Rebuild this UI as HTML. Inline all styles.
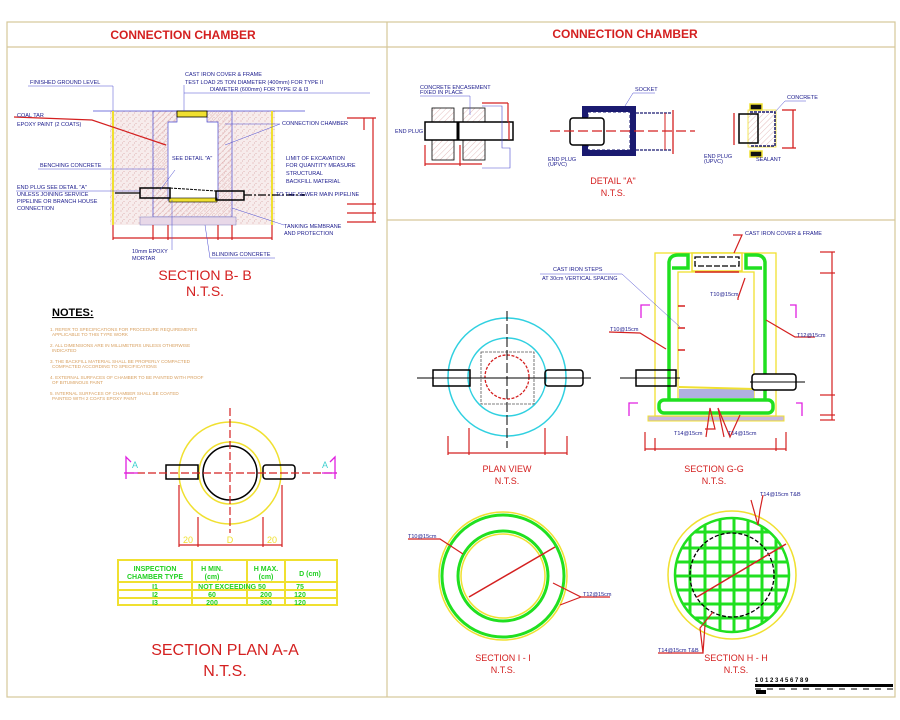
<!DOCTYPE html>
<html><head><meta charset="utf-8"><style>
html,body{margin:0;padding:0;background:#fff}
svg{display:block;font-family:"Liberation Sans",sans-serif}
.t{fill:#1a1a8c;font-size:5.5px}
.r{fill:#d42020}
</style></head><body>
<svg width="900" height="720" viewBox="0 0 900 720" xmlns="http://www.w3.org/2000/svg">
<defs>
<pattern id="h" width="4" height="4" patternUnits="userSpaceOnUse" patternTransform="rotate(45)"><line x1="0" y1="0" x2="0" y2="4" stroke="#d9a0a0" stroke-width="0.7"/></pattern>
<pattern id="s" width="6" height="6" patternUnits="userSpaceOnUse"><rect width="6" height="6" fill="#f7ecec"/><circle cx="1" cy="1" r="0.5" fill="#d08a8a"/><circle cx="4" cy="3.5" r="0.5" fill="#d8a0a0"/><circle cx="2.5" cy="5" r="0.4" fill="#c07070"/></pattern>
<clipPath id="hh"><circle cx="732" cy="575" r="58"/></clipPath>
</defs>
<!-- frame -->
<g fill="none" stroke="#d6c79a" stroke-width="1.2">
<rect x="7" y="22" width="888" height="675"/>
<line x1="7" y1="47" x2="895" y2="47"/>
<line x1="387" y1="22" x2="387" y2="697"/>
<line x1="387" y1="220" x2="895" y2="220"/>
</g>
<g class="r" font-weight="bold" font-size="12" text-anchor="middle">
<text x="183" y="39">CONNECTION CHAMBER</text>
<text x="625" y="38">CONNECTION CHAMBER</text>
</g>

<!-- SECTION B-B -->
<rect x="110" y="111" width="165" height="114" fill="url(#s)"/>
<rect x="153" y="111" width="79" height="106" fill="url(#h)" stroke="#4a4ad0" stroke-width="0.7"/>
<path d="M177 111 H207 V122 H218 V200 H168 V122 H177 Z" fill="#fff" stroke="#4a4ad0" stroke-width="0.7"/>
<rect x="140" y="217" width="96" height="8" fill="#e8d8e8" stroke="#8080c0" stroke-width="0.5"/>
<line x1="93" y1="111" x2="305" y2="111" stroke="#4a4ad0" stroke-width="0.8"/>
<line x1="113" y1="111" x2="113" y2="225" stroke="#f0e030" stroke-width="2"/>
<line x1="272" y1="111" x2="272" y2="225" stroke="#f0e030" stroke-width="2"/>
<rect x="177" y="111" width="30" height="6" fill="#f0e030" stroke="#000" stroke-width="0.8"/>
<rect x="169" y="198" width="48" height="4" fill="#f0e030" stroke="#000" stroke-width="0.6"/>
<rect x="140" y="188" width="30" height="10" fill="none" stroke="#000" stroke-width="1.5"/>
<rect x="216" y="191" width="28" height="9" fill="none" stroke="#000" stroke-width="1.5"/>
<line x1="170" y1="188" x2="216" y2="191" stroke="#000" stroke-width="1" stroke-dasharray="3,1"/>
<line x1="115" y1="193" x2="140" y2="193" stroke="#000" stroke-width="1.2"/>
<line x1="244" y1="195" x2="305" y2="195" stroke="#000" stroke-width="1.2" stroke-dasharray="8,2,2,2"/>
<path d="M14 117 L92 120 L166 145" fill="none" stroke="#d42020" stroke-width="1.2"/>
<g stroke="#d42020" stroke-width="1.2" fill="none">
<line x1="113" y1="238" x2="272" y2="238"/>
<line x1="113" y1="225" x2="113" y2="240"/><line x1="153" y1="225" x2="153" y2="240"/><line x1="168" y1="225" x2="168" y2="240"/><line x1="218" y1="225" x2="218" y2="240"/><line x1="232" y1="225" x2="232" y2="240"/><line x1="272" y1="225" x2="272" y2="240"/>
<line x1="373" y1="118" x2="373" y2="222"/><line x1="347" y1="118" x2="376" y2="118"/><line x1="347" y1="204" x2="376" y2="204"/><line x1="347" y1="213" x2="376" y2="213"/><line x1="347" y1="222" x2="376" y2="222"/>
<line x1="364" y1="118" x2="364" y2="130"/>
</g>
<g class="t">
<text x="30" y="84">FINISHED GROUND LEVEL</text>
<text x="185" y="76">CAST IRON COVER &amp; FRAME</text>
<text x="185" y="84">TEST LOAD 25 TON DIAMETER (400mm) FOR TYPE II</text>
<text x="210" y="91">DIAMETER (600mm) FOR TYPE I2 &amp; I3</text>
<text x="17" y="117">COAL TAR</text><text x="17" y="126">EPOXY PAINT (2 COATS)</text>
<text x="282" y="125">CONNECTION CHAMBER</text>
<text x="172" y="160">SEE DETAIL "A"</text>
<text x="40" y="167">BENCHING CONCRETE</text>
<text x="286" y="160">LIMIT OF EXCAVATION</text><text x="286" y="167">FOR QUANTITY MEASURE</text>
<text x="286" y="175">STRUCTURAL</text><text x="286" y="183">BACKFILL MATERIAL</text>
<text x="17" y="189">END PLUG SEE DETAIL "A"</text><text x="17" y="196">UNLESS JOINING SERVICE</text><text x="17" y="203">PIPELINE OR BRANCH HOUSE</text><text x="17" y="210">CONNECTION</text>
<text x="276" y="196">TO THE SEWER MAIN PIPELINE</text>
<text x="284" y="228">TANKING MEMBRANE</text><text x="284" y="235">AND PROTECTION</text>
<text x="132" y="253">10mm EPOXY</text><text x="132" y="260">MORTAR</text>
<text x="212" y="256">BLINDING CONCRETE</text>
</g>
<g stroke="#4a4ad0" stroke-width="0.5" fill="none">
<line x1="28" y1="86" x2="113" y2="86"/><line x1="113" y1="86" x2="113" y2="111"/>
<line x1="184" y1="93" x2="370" y2="93"/><line x1="184" y1="85" x2="184" y2="111"/>
<line x1="225" y1="124" x2="280" y2="124"/><line x1="280" y1="124" x2="225" y2="145"/>
<line x1="38" y1="169" x2="165" y2="169"/><line x1="160" y1="190" x2="175" y2="170"/>
<line x1="16" y1="191" x2="140" y2="191"/>
<line x1="284" y1="225" x2="232" y2="208"/>
<line x1="210" y1="258" x2="275" y2="258"/><line x1="210" y1="258" x2="205" y2="225"/>
<line x1="172" y1="250" x2="172" y2="200"/>
</g>
<g class="r" font-size="14" text-anchor="middle"><text x="205" y="280">SECTION B- B</text><text x="205" y="296">N.T.S.</text></g>

<!-- NOTES -->
<text x="52" y="316" font-weight="bold" font-size="11" text-decoration="underline">NOTES:</text>
<g fill="#d8a060" font-size="4.6">
<text x="50" y="331">1. REFER TO SPECIFICATIONS FOR PROCEDURE REQUIREMENTS</text><text x="52" y="336">APPLICABLE TO THIS TYPE WORK</text>
<text x="50" y="347">2. ALL DIMENSIONS ARE IN MILLIMETERS UNLESS OTHERWISE</text><text x="52" y="352">INDICATED</text>
<text x="50" y="363">3. THE BACKFILL MATERIAL SHALL BE PROPERLY COMPACTED</text><text x="52" y="368">COMPACTED ACCORDING TO SPECIFICATIONS</text>
<text x="50" y="379">4. EXTERNAL SURFACES OF CHAMBER TO BE PAINTED WITH PROOF</text><text x="52" y="384">OF BITUMINOUS PAINT</text>
<text x="50" y="395">5. INTERNAL SURFACES OF CHAMBER SHALL BE COATED</text><text x="52" y="400">PAINTED WITH 2 COATS EPOXY PAINT</text>
</g>

<!-- SECTION PLAN A-A -->
<g fill="none">
<circle cx="230" cy="473" r="51" stroke="#f0e030" stroke-width="1.5"/>
<circle cx="230" cy="473" r="31" stroke="#f0e030" stroke-width="1.5"/>
<circle cx="230" cy="473" r="27" stroke="#000" stroke-width="1.5"/>
<rect x="166" y="465" width="32" height="14" stroke="#000" stroke-width="1.5"/>
<rect x="263" y="465" width="32" height="14" rx="3" stroke="#000" stroke-width="1.5"/>
<line x1="126" y1="473" x2="337" y2="473" stroke="#d42020" stroke-width="1.2" stroke-dasharray="8,3"/>
<line x1="230" y1="408" x2="230" y2="533" stroke="#d42020" stroke-width="1.2" stroke-dasharray="8,3"/>
<g stroke="#d42020" stroke-width="1.2"><line x1="179" y1="545" x2="282" y2="545"/><line x1="179" y1="485" x2="179" y2="547"/><line x1="198" y1="517" x2="198" y2="547"/><line x1="263" y1="517" x2="263" y2="547"/><line x1="282" y1="485" x2="282" y2="547"/></g>
<g stroke="#e020e0" stroke-width="1.3"><path d="M126 479 V457 L131 462"/><path d="M335 479 V457 L330 462"/><line x1="124" y1="473" x2="138" y2="473"/><line x1="322" y1="473" x2="337" y2="473"/></g>
</g>
<g fill="#40d0d0" font-size="9"><text x="132" y="468">A</text><text x="322" y="468">A</text></g>
<g fill="#f0e030" font-size="9" text-anchor="middle"><text x="188" y="543">20</text><text x="230" y="543">D</text><text x="272" y="543">20</text></g>
<g fill="none" stroke="#f0e030" stroke-width="2">
<rect x="118" y="560" width="219" height="45"/>
<line x1="118" y1="582" x2="337" y2="582"/><line x1="118" y1="590" x2="337" y2="590"/><line x1="118" y1="598" x2="337" y2="598"/>
<line x1="192" y1="560" x2="192" y2="605"/><line x1="247" y1="560" x2="247" y2="605"/><line x1="285" y1="560" x2="285" y2="605"/>
</g>
<g fill="#20d020" font-weight="bold" font-size="7" text-anchor="middle">
<text x="155" y="571">INSPECTION</text><text x="155" y="579">CHAMBER TYPE</text>
<text x="212" y="571">H MIN.</text><text x="212" y="579">(cm)</text><text x="266" y="571">H MAX.</text><text x="266" y="579">(cm)</text><text x="310" y="576">D (cm)</text>
<text x="155" y="589">I1</text><text x="232" y="589">NOT EXCEEDING 50</text><text x="300" y="589">75</text>
<text x="155" y="597">I2</text><text x="212" y="597">60</text><text x="266" y="597">200</text><text x="300" y="597">120</text>
<text x="155" y="605">I3</text><text x="212" y="605">200</text><text x="266" y="605">300</text><text x="300" y="605">120</text>
</g>
<g class="r" font-size="16" text-anchor="middle"><text x="225" y="655">SECTION PLAN A-A</text><text x="225" y="676">N.T.S.</text></g>

<!-- DETAIL A -->
<g>
<rect x="432" y="108" width="22" height="52" fill="url(#h)" stroke="#000" stroke-width="0.8"/>
<rect x="463" y="108" width="22" height="52" fill="url(#h)" stroke="#000" stroke-width="0.8"/>
<rect x="425" y="122" width="88" height="18" fill="#fff" stroke="#000" stroke-width="1.5"/>
<line x1="458" y1="122" x2="458" y2="140" stroke="#000" stroke-width="3"/>
<g stroke="#d42020" stroke-width="1.2" fill="none"><line x1="482" y1="103" x2="508" y2="103"/><line x1="508" y1="103" x2="508" y2="122"/><line x1="509" y1="122" x2="509" y2="140"/><line x1="425" y1="164" x2="482" y2="164"/><line x1="425" y1="145" x2="425" y2="166"/><line x1="460" y1="145" x2="460" y2="166"/></g>
<path d="M482 106 H502 V148 H510 V168 H482" fill="none" stroke="#4a4ad0" stroke-width="0.6"/>
<rect x="582" y="106" width="54" height="50" fill="#1a1a70"/>
<rect x="588" y="112" width="42" height="38" fill="#fff" stroke="#1a1a70" stroke-dasharray="3,2"/>
<rect x="570" y="118" width="34" height="27" rx="3" fill="#fff" stroke="#000" stroke-width="1.5"/>
<path d="M636 113 H672 M636 150 H672" stroke="#1a1a70" stroke-width="1.2" stroke-dasharray="3,1"/>
<line x1="550" y1="131" x2="695" y2="131" stroke="#d42020" stroke-width="1.2" stroke-dasharray="10,4"/>
<line x1="673" y1="110" x2="673" y2="154" stroke="#d42020" stroke-width="1.3"/>
<line x1="665" y1="113" x2="665" y2="150" stroke="#d42020" stroke-width="1"/>
<rect x="750" y="104" width="12" height="6" fill="#111" stroke="#f0e030" stroke-width="1.5"/>
<rect x="750" y="151" width="12" height="6" fill="#111" stroke="#f0e030" stroke-width="1.5"/>
<rect x="748" y="110" width="28" height="37" fill="url(#h)" stroke="#f0e030" stroke-width="0.8"/>
<rect x="739" y="114" width="19" height="29" fill="none" stroke="#000" stroke-width="1.5"/>
<path d="M750 112 H775 V146 H750" fill="none" stroke="#1a1a70" stroke-width="1.5" stroke-dasharray="3,1"/>
<g stroke="#d42020" stroke-width="1.3"><line x1="734" y1="113" x2="734" y2="145"/><line x1="793" y1="110" x2="793" y2="148"/><line x1="782" y1="110" x2="796" y2="110"/><line x1="782" y1="148" x2="796" y2="148"/></g>
<g class="t" font-size="4"><text x="420" y="89">CONCRETE ENCASEMENT</text><text x="420" y="94">FIXED IN PLACE</text><text x="395" y="133">END PLUG</text><text x="635" y="91">SOCKET</text><text x="548" y="161">END PLUG</text><text x="548" y="166">(UPVC)</text><text x="787" y="99">CONCRETE</text><text x="704" y="158">END PLUG</text><text x="704" y="163">(UPVC)</text><text x="756" y="161">SEALANT</text></g>
<g stroke="#4a4ad0" stroke-width="0.5"><line x1="420" y1="96" x2="470" y2="96"/><line x1="470" y1="96" x2="470" y2="115"/><line x1="633" y1="93" x2="655" y2="93"/><line x1="633" y1="93" x2="625" y2="106"/><line x1="785" y1="101" x2="806" y2="101"/><line x1="785" y1="101" x2="775" y2="112"/></g>
</g>
<g class="r" font-size="9" text-anchor="middle"><text x="613" y="184">DETAIL "A"</text><text x="613" y="196">N.T.S.</text></g>

<!-- PLAN VIEW -->
<g fill="none">
<circle cx="507" cy="377" r="59" stroke="#30d0e0" stroke-width="1.5"/>
<circle cx="507" cy="377" r="39" stroke="#30d0e0" stroke-width="1.5"/>
<rect x="481" y="352" width="53" height="52" stroke="#555" stroke-width="0.8" stroke-dasharray="3,1"/>
<circle cx="507" cy="377" r="22" stroke="#d42020" stroke-width="1.3" stroke-dasharray="3,1.5"/>
<rect x="433" y="370" width="37" height="16" stroke="#000" stroke-width="1.5"/>
<rect x="545" y="370" width="38" height="16" rx="3" stroke="#000" stroke-width="1.5"/>
<line x1="417" y1="378" x2="591" y2="378" stroke="#000" stroke-width="1"/>
<line x1="507" y1="311" x2="507" y2="448" stroke="#000" stroke-width="1" stroke-dasharray="10,3"/>
<g stroke="#d42020" stroke-width="1.2"><line x1="448" y1="453" x2="567" y2="453"/><line x1="448" y1="436" x2="448" y2="455"/><line x1="469" y1="428" x2="469" y2="455"/><line x1="545" y1="428" x2="545" y2="455"/><line x1="567" y1="436" x2="567" y2="455"/></g>
</g>
<g class="r" font-size="9" text-anchor="middle"><text x="507" y="472">PLAN VIEW</text><text x="507" y="484">N.T.S.</text><text x="714" y="472">SECTION G-G</text><text x="714" y="484">N.T.S.</text></g>

<!-- SECTION G-G -->
<g fill="none">
<rect x="648" y="416" width="136" height="5" fill="#c8b8e0" stroke="#f0e030" stroke-width="1"/>
<rect x="655" y="253" width="121" height="163" stroke="#f0e030" stroke-width="1.3"/>
<rect x="678" y="272" width="76" height="128" stroke="#f0e030" stroke-width="1.3"/>
<rect x="692" y="253" width="50" height="18" fill="#fff" stroke="#f0e030" stroke-width="1.5"/>
<path d="M669 400 V262 Q670 255 678 255 H688 V268 H672 M765 400 V262 Q764 255 756 255 H746 V268 H762" stroke="#20e020" stroke-width="3.5"/>
<rect x="659" y="400" width="114" height="13" rx="5" stroke="#20e020" stroke-width="3.5"/>
<rect x="679" y="389" width="75" height="9" fill="#b0b0e0"/>
<line x1="679" y1="387" x2="754" y2="389" stroke="#f0e030" stroke-width="2"/>
<rect x="695" y="257" width="44" height="9" stroke="#000" stroke-width="1.3" stroke-dasharray="6,2"/>
<line x1="695" y1="272" x2="739" y2="272" stroke="#d42020" stroke-width="1.5"/>
<rect x="636" y="370" width="40" height="16" stroke="#000" stroke-width="1.5"/>
<rect x="752" y="374" width="44" height="16" rx="3" fill="#fff" stroke="#000" stroke-width="1.5"/>
<line x1="620" y1="378" x2="680" y2="378" stroke="#000"/><line x1="750" y1="382" x2="805" y2="382" stroke="#000"/>
<g stroke="#d42020" stroke-width="1.5"><line x1="678" y1="306" x2="685" y2="306"/><line x1="678" y1="328" x2="685" y2="328"/><line x1="678" y1="350" x2="685" y2="350"/></g>
<g stroke="#d42020" stroke-width="1.2"><line x1="832" y1="252" x2="832" y2="420"/><line x1="820" y1="252" x2="835" y2="252"/><line x1="820" y1="273" x2="835" y2="273"/><line x1="820" y1="395" x2="835" y2="395"/><line x1="820" y1="415" x2="835" y2="415"/><line x1="820" y1="420" x2="835" y2="420"/>
<line x1="645" y1="449" x2="786" y2="449"/><line x1="645" y1="432" x2="645" y2="451"/><line x1="786" y1="432" x2="786" y2="451"/><line x1="655" y1="438" x2="655" y2="451"/><line x1="776" y1="438" x2="776" y2="451"/>
<path d="M706 437 L710 408 L715 429 H705 M724 437 L718 408 L730 437 L740 415"/><path d="M609 332 L640 333 L666 349"/><path d="M815 337 L795 337 L766 320"/><path d="M738 300 L738 298 L745 278"/><path d="M733 235 L742 235 L734 253"/></g>
<g stroke="#e020e0" stroke-width="1.3"><path d="M641 312 V305 H650 M641 305 V318"/><path d="M796 312 V305 H790 M796 305 V318"/><path d="M629 410 V403 H638 M629 403 V416"/><path d="M802 410 V403 H796 M802 403 V416"/></g>
<line x1="540" y1="274" x2="622" y2="274" stroke="#4a4ad0" stroke-width="0.5"/><line x1="622" y1="274" x2="680" y2="327" stroke="#4a4ad0" stroke-width="0.5"/>
</g>
<g class="t" font-size="5"><text x="553" y="271">CAST IRON STEPS</text><text x="542" y="280">AT 30cm VERTICAL SPACING</text><text x="745" y="235">CAST IRON COVER &amp; FRAME</text><text x="710" y="296">T10@15cm</text><text x="610" y="331">T10@15cm</text><text x="797" y="337">T12@15cm</text><text x="674" y="435">T14@15cm</text><text x="728" y="435">T14@15cm</text></g>

<!-- SECTION I-I -->
<g fill="none">
<circle cx="503" cy="576" r="64" stroke="#f0e030" stroke-width="1.5"/>
<circle cx="503" cy="576" r="61" stroke="#20e020" stroke-width="3"/>
<circle cx="503" cy="576" r="45" stroke="#20e020" stroke-width="3"/>
<circle cx="503" cy="576" r="42" stroke="#f0e030" stroke-width="1.5"/>
<line x1="469" y1="597" x2="555" y2="547" stroke="#d42020" stroke-width="1.5"/>
<path d="M408 539 H440 L463 554" stroke="#d42020" stroke-width="1.2"/>
<path d="M610 597 H581 L553 583 M581 597 L560 605" stroke="#d42020" stroke-width="1.2"/>
</g>
<g class="t" font-size="5"><text x="408" y="538">T10@15cm</text><text x="583" y="596">T12@15cm</text></g>
<g class="r" font-size="9" text-anchor="middle"><text x="503" y="661">SECTION I - I</text><text x="503" y="673">N.T.S.</text><text x="736" y="661">SECTION H - H</text><text x="736" y="673">N.T.S.</text></g>

<!-- SECTION H-H -->
<g fill="none">
<circle cx="732" cy="575" r="64" stroke="#f0e030" stroke-width="1.5"/>
<g clip-path="url(#hh)" stroke="#20e020" stroke-width="3">
<line x1="670" y1="532" x2="800" y2="532"/><line x1="670" y1="548" x2="800" y2="548"/><line x1="670" y1="562" x2="800" y2="562"/><line x1="670" y1="576" x2="800" y2="576"/><line x1="670" y1="590" x2="800" y2="590"/><line x1="670" y1="604" x2="800" y2="604"/><line x1="670" y1="618" x2="800" y2="618"/>
<line x1="690" y1="510" x2="690" y2="640"/><line x1="705" y1="510" x2="705" y2="640"/><line x1="720" y1="510" x2="720" y2="640"/><line x1="734" y1="510" x2="734" y2="640"/><line x1="748" y1="510" x2="748" y2="640"/><line x1="762" y1="510" x2="762" y2="640"/><line x1="776" y1="510" x2="776" y2="640"/>
</g>
<circle cx="732" cy="575" r="57" stroke="#20e020" stroke-width="2.5"/>
<circle cx="732" cy="575" r="42" stroke="#000" stroke-width="1.3" stroke-dasharray="4,2"/>
<line x1="697" y1="597" x2="786" y2="544" stroke="#d42020" stroke-width="1.5"/>
<path d="M658 653 H703 L700 628 L713 612 M703 653 L705 625" stroke="#d42020" stroke-width="1.2"/>
<path d="M760 510 L758 525 L751 500 M760 510 L763 495" stroke="#d42020" stroke-width="1.2"/>
</g>
<g class="t" font-size="5"><text x="658" y="652">T14@15cm  T&amp;B</text><text x="760" y="496">T14@15cm  T&amp;B</text></g>

<!-- scale bar -->
<g font-size="6" font-weight="bold" fill="#000">
<text x="755" y="682">1 0 1 2 3 4 5 6 7 8 9</text>
</g>
<rect x="755" y="684" width="138" height="3" fill="#000"/>
<line x1="755" y1="689" x2="893" y2="689" stroke="#000" stroke-dasharray="6,6"/>
<rect x="756" y="690" width="10" height="4" fill="#000"/>
</svg>
</body></html>
